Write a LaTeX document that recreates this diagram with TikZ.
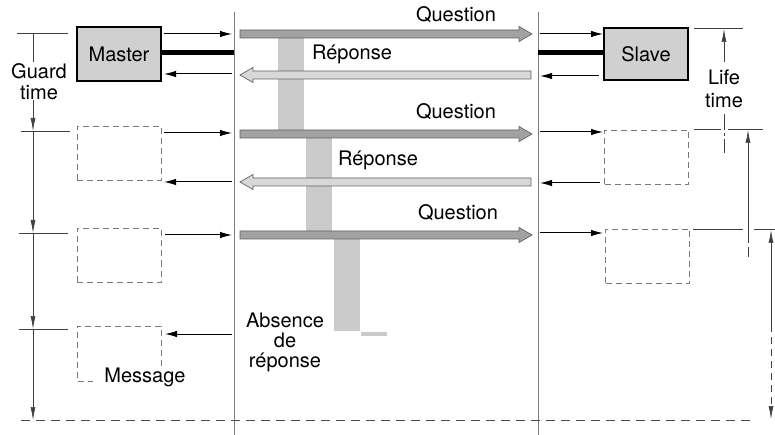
\documentclass[tikz,border=0pt]{standalone}
\usepackage{fontspec}
\setmainfont{TeX Gyre Heros}
\usetikzlibrary{arrows.meta}
\definecolor{qfill}{HTML}{A2A2A2}
\definecolor{rfill}{HTML}{D8D8D8}
\definecolor{barfill}{HTML}{CBCBCB}
\definecolor{boxfill}{HTML}{D0D0D0}
\definecolor{edgegray}{HTML}{626262}
\definecolor{linegray}{HTML}{7A7A7A}
\newcommand\qarrowR[3]{% x1, x2 (tip), y
  \draw[bigq] (#1,#3-4) -- (#2-13,#3-4) -- (#2-13,#3-7.5) -- (#2,#3) -- (#2-13,#3+7.5) -- (#2-13,#3+4) -- (#1,#3+4) -- cycle;}
\newcommand\rarrowL[3]{% x1 (tip), x2, y
  \draw[bigr] (#2,#3-4) -- (#1+13,#3-4) -- (#1+13,#3-7.5) -- (#1,#3) -- (#1+13,#3+7.5) -- (#1+13,#3+4) -- (#2,#3+4) -- cycle;}
\begin{document}
\begin{tikzpicture}[x=1pt,y=-1pt,
  font=\fontsize{20}{21}\selectfont,
  solidbox/.style={draw=black, line width=1.4pt, fill=boxfill, minimum width=84pt, inner sep=0pt},
  dashbox/.style={draw=linegray, line width=0.8pt, dash pattern=on 6pt off 4pt, minimum width=84pt, minimum height=54pt, inner sep=0pt},
  sig/.style={draw=black, line width=1pt, -{Latex[length=12pt,width=6.5pt]}},
  lifeline/.style={draw=linegray, line width=0.8pt},
  dim/.style={draw=black!75, line width=0.65pt},
  dimarr/.style={draw=black!75, line width=0.65pt, -{Latex[length=13pt,width=5pt]}},
  bigq/.style={draw=edgegray, line width=0.7pt, fill=qfill},
  bigr/.style={draw=edgegray, line width=0.7pt, fill=rfill},
  bar/.style={fill=barfill, draw=none},
  lbl/.style={inner sep=0pt, align=center}
]
\useasboundingbox (0,0) rectangle (775,435);

% lifelines
\draw[lifeline] (234,12) coordinate (Ltop) -- (234,435) coordinate (Lbot);
\draw[lifeline] (538,12) coordinate (Rtop) -- (538,435) coordinate (Rbot);

% grey activity bars (behind arrows)
\fill[bar] (278,34) rectangle (304,134);
\fill[bar] (306,134) rectangle (332,235);
\fill[bar] (334,235) rectangle (360,331);
\fill[bar] (361,332) rectangle (387,336);

% big message arrows
\qarrowR{240}{532}{34}
\rarrowL{240}{531}{75}
\qarrowR{240}{532}{134}
\rarrowL{240}{531}{182}
\qarrowR{240}{532}{235}

\node[lbl] (q1) at (456,15) {Question};
\node[lbl] (r1) at (352,54) {Réponse};
\node[lbl] (q2) at (456,112) {Question};
\node[lbl] (r2) at (378,160) {Réponse};
\node[lbl] (q3) at (458,213) {Question};
\node[lbl, font=\fontsize{20}{20}\selectfont] (abs) at (285,342) {Absence\\de\\réponse};

% master side
\node[solidbox, minimum height=54pt] (master) at (119,54) {Master};
\node[dashbox] (m2) at (119,153) {};
\node[dashbox] (m3) at (119,255.5) {};
\draw[draw=linegray, line width=0.8pt, dash pattern=on 6pt off 4pt]
  (161,366) -- (161,326) -- (77,326) -- (77,381) -- (93,381);
\node[lbl] (msg) at (145,377) {Message};

\draw[line width=5pt] (master.east |- 0,53) -- (Ltop |- 0,53);
\coordinate (ma1) at (164,34);  \coordinate (la1) at (232,34);
\coordinate (ma2) at (164,74);  \coordinate (la2) at (232,74);
\coordinate (ma3) at (164,133); \coordinate (la3) at (232,133);
\coordinate (ma4) at (164,182); \coordinate (la4) at (232,182);
\coordinate (ma5) at (165,235); \coordinate (la5) at (232,235);
\coordinate (ma6) at (165,334); \coordinate (la6) at (232,334);
\draw[sig] (ma1) -- (la1);
\draw[sig] (la2) -- (ma2);
\draw[sig] (ma3) -- (la3);
\draw[sig] (la4) -- (ma4);
\draw[sig] (ma5) -- (la5);
\draw[sig] (la6) -- (ma6);

% slave side
\node[solidbox, minimum height=52pt] (slave) at (646,54) {Slave};
\node[dashbox] (s2) at (646.5,157) {};
\node[dashbox] (s3) at (647.5,256) {};
\draw[line width=5pt] (Rtop |- 0,53) -- (slave.west |- 0,53);
\coordinate (ra1) at (540,34);  \coordinate (sa1) at (603,34);
\coordinate (ra2) at (540,76);  \coordinate (sa2) at (599,76);
\coordinate (ra3) at (540,132); \coordinate (sa3) at (603,132);
\coordinate (ra4) at (540,183); \coordinate (sa4) at (600,183);
\coordinate (ra5) at (540,233); \coordinate (sa5) at (603,233);
\draw[sig] (ra1) -- (sa1);
\draw[sig] (sa2) -- (ra2);
\draw[sig] (ra3) -- (sa3);
\draw[sig] (sa4) -- (ra4);
\draw[sig] (ra5) -- (sa5);

% guard time dimension (left)
\draw[dim] (17,33) -- (68,33);
\draw[dim] (21,131) -- (70,131);
\draw[dim] (19,233) -- (68,233);
\draw[dim] (19,329) -- (68,329);
\draw[dim] (33,33) -- (33,62);
\node[lbl] (guard) at (39,82) {Guard\\time};
\draw[dimarr] (33,100) -- (33,131);
\draw[dimarr] (33,131) -- (33,233);
\draw[dimarr] (33,233) -- (33,329);
\draw[dimarr] (33,329) -- (33,420);

% bottom dashed line
\draw[draw=black!70, line width=0.7pt, dash pattern=on 9pt off 6pt] (21,420) -- (752,420);

% life time dimension (right)
\draw[dim] (694,28) -- (743,28);
\draw[dimarr] (724,62) -- (724,29);
\node[lbl] (life) at (724,77) {Life};
\node[lbl] (ltime) at (724,101) {time};
\draw[dim, dash pattern=on 16pt off 3pt on 3pt off 3pt] (724,114) -- (724,153);
\draw[dim] (694,129) -- (721,129);
\draw[dim] (728,129) -- (763,129);
\draw[dimarr] (748,233) -- (748,130);
\draw[dim, dash pattern=on 10pt off 4pt] (748,233) -- (748,257);
\draw[dim] (693,229) -- (743,229);
\draw[dim] (754,229) -- (775,229);
\draw[dim, {Latex[length=13pt,width=5pt]}-] (771,230) -- (771,325);
\draw[dim, dash pattern=on 7pt off 5pt, -{Latex[length=13pt,width=5pt]}] (771,325) -- (771,419);
\end{tikzpicture}
\end{document}
